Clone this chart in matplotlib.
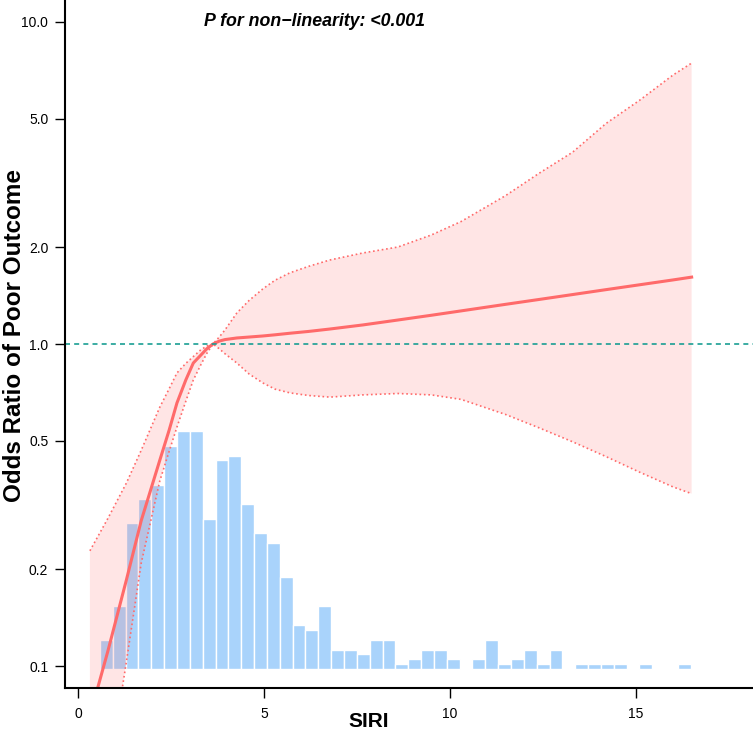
import numpy as np
import matplotlib
matplotlib.use("Agg")
from matplotlib import pyplot as plt

plt.rcParams["font.family"] = ["Liberation Sans", "DejaVu Sans"]

# spline fit: SIRI vs odds ratio with 95% CI
siri = [0.32, 0.8, 1.3, 1.7, 2.2, 2.45, 2.66, 2.9, 3.1, 3.3, 3.47, 3.63,
        3.8, 3.95, 4.27, 4.6, 4.97, 5.3, 5.7, 6.2, 6.77, 7.66, 8.6, 9.5,
        10.3, 11.5, 12.4, 13.3, 14.2, 15.1, 16.0, 16.5]
odds = [0.070, 0.111, 0.185, 0.283, 0.436, 0.540, 0.656, 0.774, 0.873,
        0.923, 0.968, 1.0, 1.021, 1.032, 1.044, 1.051, 1.059, 1.068, 1.08,
        1.094, 1.113, 1.146, 1.187, 1.228, 1.267, 1.328, 1.375, 1.424,
        1.475, 1.527, 1.581, 1.613]
upper = [0.228, 0.287, 0.37, 0.468, 0.637, 0.726, 0.813, 0.871, 0.914,
         0.959, 0.986, 1.0, 1.052, 1.105, 1.248, 1.365, 1.483, 1.578, 1.664,
         1.742, 1.823, 1.917, 2.0, 2.18, 2.40, 2.89, 3.39, 3.94, 4.84, 5.71,
         6.84, 7.45]
lower = [0.020, 0.044, 0.103, 0.209, 0.376, 0.464, 0.552, 0.665, 0.773,
         0.861, 0.938, 1.0, 0.966, 0.933, 0.873, 0.807, 0.757, 0.724, 0.705,
         0.692, 0.684, 0.695, 0.702, 0.695, 0.673, 0.604, 0.549, 0.497,
         0.447, 0.400, 0.360, 0.343]

# histogram of SIRI (counts per bin)
hist_counts = [6, 13, 30, 35, 38, 46, 49, 49, 31, 43, 44, 34, 28, 26, 19, 9,
               8, 13, 4, 4, 3, 6, 6, 1, 2, 4, 4, 2, 0, 2, 6, 1, 2, 4, 1, 4,
               0, 1, 1, 1, 1, 0, 1, 0, 0, 1]
bin_start = 0.59
bin_width = 0.3454

y_ticks = [0.1, 0.2, 0.5, 1.0, 2.0, 5.0, 10.0]
y_ticklabels = ["0.1", "0.2", "0.5", "1.0", "2.0", "5.0", "10.0"]
x_ticks = [0, 5, 10, 15]

red = "#FF6A6A"

fig = plt.figure(figsize=(7.53, 7.42), dpi=100)
pos = [65 / 753, 54 / 742, 688 / 753, 688 / 742]

ax_h = fig.add_axes(pos)
edges = bin_start + bin_width * np.arange(len(hist_counts))
ax_h.bar(edges, hist_counts, width=bin_width, align="edge",
         color="#A9D3FB", edgecolor="white", linewidth=1)
ax_h.set_xlim(-0.35, 18.15)
ax_h.set_ylim(-3.92, 137.9)
ax_h.axis("off")

ax = fig.add_axes(pos)
ax.patch.set_visible(False)
ax.set_yscale("log")
ax.fill_between(siri, lower, upper, color=red, alpha=0.17, linewidth=0)
ax.plot(siri, upper, color=red, ls=":", lw=1.2)
ax.plot(siri, lower, color=red, ls=":", lw=1.2)
ax.plot(siri, odds, color=red, lw=2.2)
ax.axhline(1.0, color="#1A9E93", ls=(0, (3, 2.5)), lw=1.2)

ax.set_xlim(-0.35, 18.15)
ax.set_ylim(10 ** -1.068, 10 ** 1.068)
ax.set_yticks(y_ticks)
ax.set_yticklabels(y_ticklabels)
ax.minorticks_off()
ax.set_xticks(x_ticks)
ax.tick_params(axis="both", direction="out", length=7, width=1, labelsize=10)
ax.tick_params(axis="x", pad=7)
ax.tick_params(axis="y", pad=5)

for side in ["top", "right"]:
    ax.spines[side].set_visible(False)
for side in ["left", "bottom"]:
    ax.spines[side].set_linewidth(1.5)

ax.set_xlabel("SIRI", fontsize=15, fontweight="bold")
ax.xaxis.set_label_coords(0.442, -0.035)
ax.set_ylabel("Odds Ratio of Poor Outcome", fontsize=17.5, fontweight="bold")
ax.yaxis.set_label_coords(-0.056, 0.513)

ax.text(3.4, 10 ** 1.0, "P for non\u2212linearity: <0.001", fontsize=12.8,
        fontweight="bold", fontstyle="italic", va="center", ha="left")

fig.savefig("out.png", dpi=100)
